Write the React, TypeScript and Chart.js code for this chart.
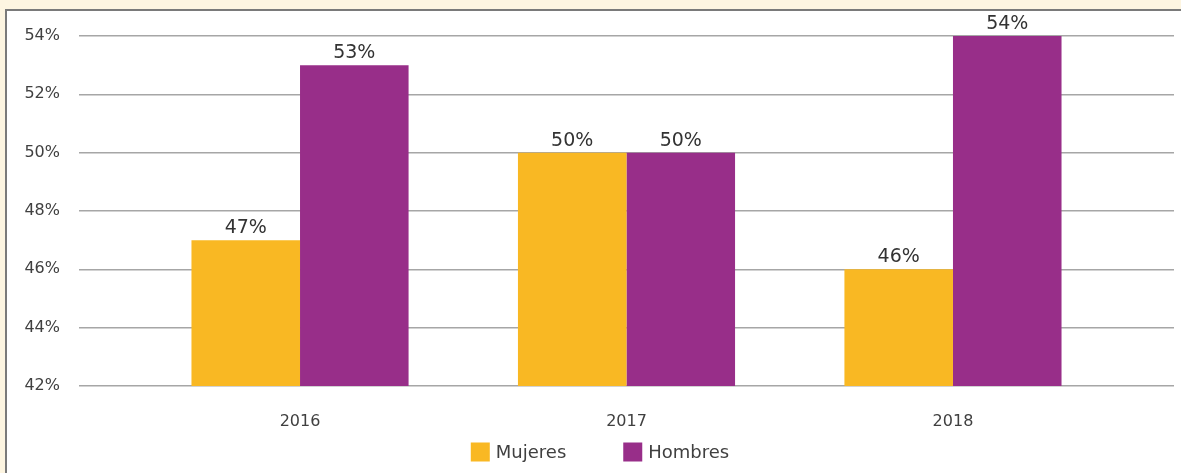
import React, { useEffect, useRef } from "react";
import { Chart, registerables } from "chart.js";

Chart.register(...registerables);

const categories = ["2016", "2017", "2018"];
const mujeres = [47, 50, 46];
const hombres = [53, 50, 54];
const seriesNames = ["Mujeres", "Hombres"];
const seriesColors = ["#F9B823", "#982E89"];
const yTicks = [42, 44, 46, 48, 50, 52, 54];

const FONT = "'DejaVu Sans', sans-serif";

const dataLabels = {
  id: "dataLabels",
  afterDatasetsDraw(chart: any) {
    const ctx = chart.ctx;
    ctx.save();
    ctx.font = `19px ${FONT}`;
    ctx.fillStyle = "#333333";
    ctx.textAlign = "center";
    ctx.textBaseline = "alphabetic";
    chart.data.datasets.forEach((ds: any, di: number) => {
      const meta = chart.getDatasetMeta(di);
      meta.data.forEach((bar: any, i: number) => {
        const v = ds.data[i].y;
        ctx.fillText(`${v}%`, bar.x, bar.y - 7);
      });
    });
    ctx.restore();
  },
};

const bottomLegend = {
  id: "bottomLegend",
  afterDraw(chart: any) {
    const ctx = chart.ctx;
    ctx.save();
    ctx.font = `18px ${FONT}`;
    ctx.textBaseline = "middle";
    ctx.textAlign = "left";
    const box = 19;
    const gapText = 6;
    const gapItem = 57;
    const widths = chart.data.datasets.map((ds: any) => ctx.measureText(ds.label).width);
    let total = 0;
    widths.forEach((w: number, i: number) => {
      total += box + gapText + w + (i < widths.length - 1 ? gapItem : 0);
    });
    let x = 593 - total / 2;
    const cy = 441;
    chart.data.datasets.forEach((ds: any, i: number) => {
      ctx.fillStyle = ds.backgroundColor;
      ctx.fillRect(x, cy - box / 2, box, box);
      ctx.fillStyle = "#404040";
      ctx.fillText(ds.label, x + box + gapText, cy + 1);
      x += box + gapText + widths[i] + gapItem;
    });
    ctx.restore();
  },
};

export default function App() {
  const ref = useRef<HTMLCanvasElement | null>(null);

  useEffect(() => {
    document.body.style.margin = "0";
    const chart = new Chart(ref.current!, {
      type: "bar",
      data: {
        datasets: [
          {
            label: seriesNames[0],
            data: mujeres.map((v, i) => ({ x: i, y: v })),
            backgroundColor: seriesColors[0],
            categoryPercentage: 0.665,
            barPercentage: 1,
          },
          {
            label: seriesNames[1],
            data: hombres.map((v, i) => ({ x: i, y: v })),
            backgroundColor: seriesColors[1],
            categoryPercentage: 0.665,
            barPercentage: 1,
          },
        ],
      },
      options: {
        animation: false,
        responsive: false,
        maintainAspectRatio: false,
        layout: { padding: { top: 25, right: 7, bottom: 0, left: 0 } },
        plugins: {
          tooltip: { enabled: false },
          legend: { display: false },
        },
        scales: {
          x: {
            type: "linear",
            offset: false,
            bounds: "data",
            min: -0.677,
            max: 2.677,
            afterBuildTicks: (s: any) => {
              s.ticks = categories.map((_, i) => ({ value: i }));
            },
            afterFit: (s: any) => {
              s.height = 87;
              s.paddingLeft = 0;
              s.paddingRight = 0;
            },
            grid: { display: false, drawTicks: false, offset: false },
            border: { display: false },
            ticks: {
              padding: 26,
              color: "#404040",
              font: { family: FONT, size: 16 },
              callback: (v: any) => categories[v] ?? "",
            },
          },
          y: {
            min: yTicks[0],
            max: yTicks[yTicks.length - 1],
            afterFit: (s: any) => {
              s.width = 72;
              s.paddingTop = 0;
              s.paddingBottom = 0;
            },
            afterBuildTicks: (s: any) => {
              s.ticks = yTicks.map((v) => ({ value: v }));
            },
            grid: { color: "#a6a6a6", lineWidth: 1.5, drawTicks: false },
            border: { display: false },
            ticks: {
              padding: 19,
              color: "#404040",
              font: { family: FONT, size: 16 },
              callback: (v: any) => `${v}%`,
            },
          },
        },
      },
      plugins: [dataLabels, bottomLegend],
    });
    return () => chart.destroy();
  }, []);

  return (
    <div
      style={{
        position: "fixed",
        left: 0,
        top: 0,
        width: 1181,
        height: 473,
        background: "#FDF5E1",
        overflow: "hidden",
      }}
    >
      <div
        style={{
          position: "absolute",
          left: 5,
          top: 9,
          width: 1176,
          height: 464,
          borderTop: "2px solid #7a7a7a",
          borderLeft: "2px solid #7a7a7a",
          background: "#ffffff",
          boxSizing: "border-box",
        }}
      >
        <canvas ref={ref} width={1174} height={462} style={{ display: "block" }} />
      </div>
    </div>
  );
}
